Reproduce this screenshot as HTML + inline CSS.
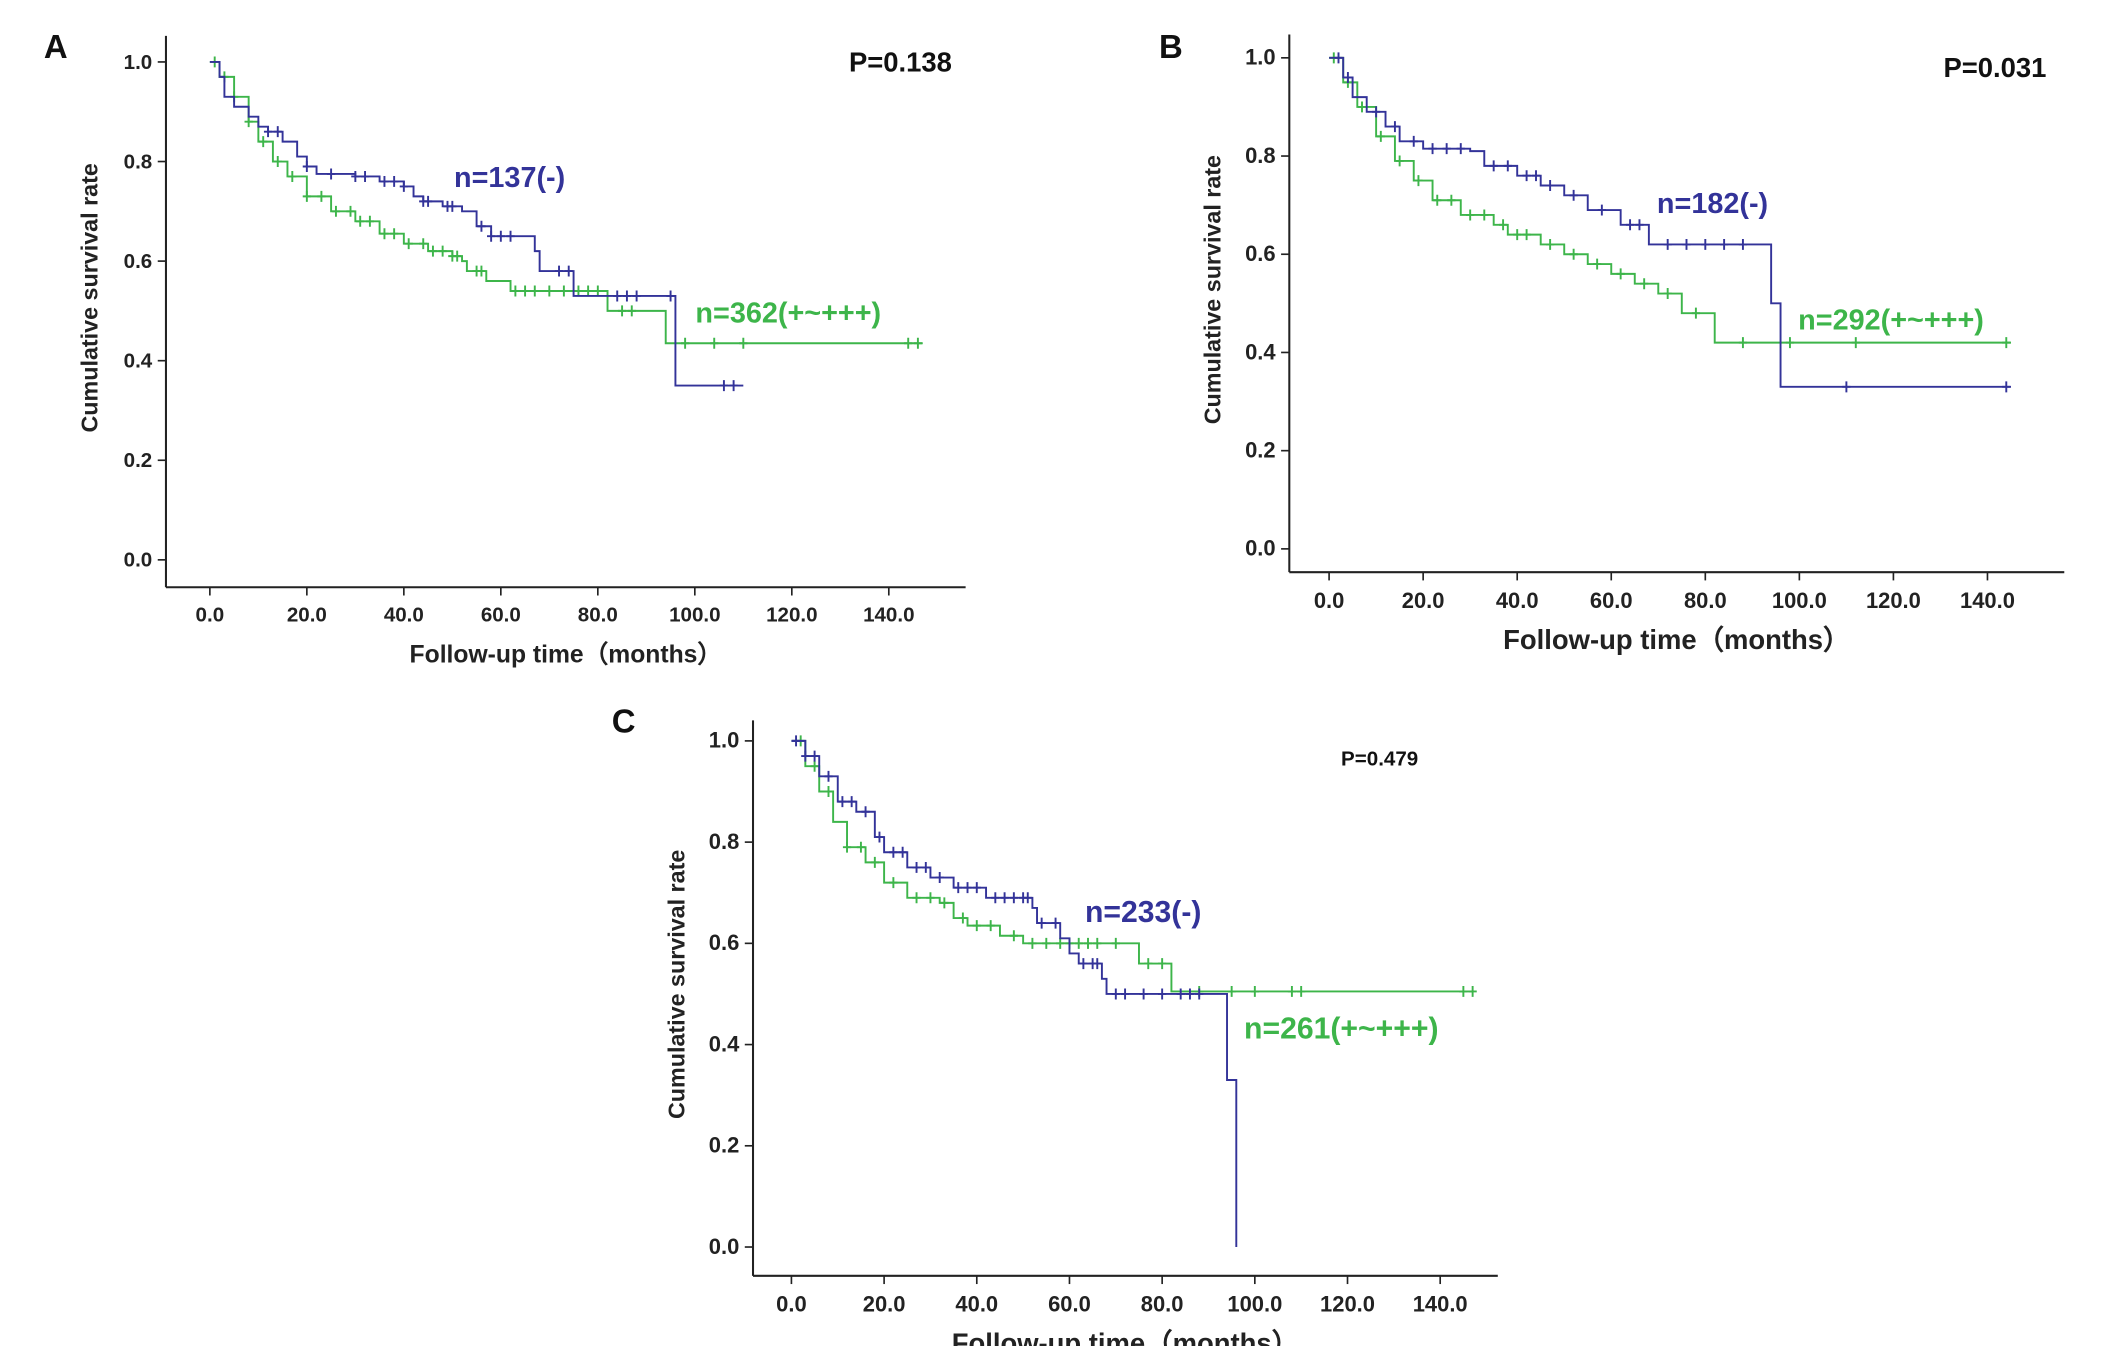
<!DOCTYPE html>
<html><head><meta charset="utf-8"><style>
html,body{margin:0;padding:0;background:#fff;}
svg{display:block;}
text{font-family:"Liberation Sans",sans-serif;}
</style></head><body>
<svg id="fig" width="2126" height="1346" viewBox="0 0 1550 981" xmlns="http://www.w3.org/2000/svg"></svg>
<script>
// Panel A data
const aBlueT=[0,2,3,5,8,10,12,15,18,20,22,30,35,40,42,44,48,52,55,58,67,68,75,96];
const aBlueS=[1,0.97,0.93,0.91,0.89,0.87,0.86,0.84,0.81,0.79,0.775,0.77,0.76,0.75,0.73,0.72,0.71,0.70,0.67,0.65,0.62,0.58,0.53,0.35];
const aBlueEnd=110;
const aBlueCens=[12,14,20,25,30,32,36,38,40,44,45,49,50,56,58,60,62,72,74,84,86,88,95,106,108];
const aGreenT=[0,2,5,8,10,13,16,20,25,30,35,40,45,50,52,53,57,62,82,94];
const aGreenS=[1,0.97,0.93,0.88,0.84,0.80,0.77,0.73,0.70,0.68,0.655,0.635,0.62,0.61,0.60,0.58,0.56,0.54,0.50,0.435];
const aGreenEnd=147;
const aGreenCens=[1,3,5,8,11,14,17,20,23,26,29,31,33,36,38,41,44,46,48,50,51,55,56,63,65,67,70,73,76,78,80,85,87,98,104,110,144,146];
// Panel B data
const bBlueT=[0,3,5,8,12,15,20,30,33,40,45,50,55,62,68,94,96];
const bBlueS=[1,0.96,0.92,0.89,0.86,0.83,0.815,0.81,0.78,0.76,0.74,0.72,0.69,0.66,0.62,0.50,0.33];
const bBlueEnd=145;
const bBlueCens=[2,4,10,14,18,22,25,28,35,38,42,44,47,52,58,64,66,72,76,80,84,88,110,144];
const bGreenT=[0,3,6,10,14,18,22,28,35,38,45,50,55,60,65,70,75,82];
const bGreenS=[1,0.95,0.90,0.84,0.79,0.75,0.71,0.68,0.66,0.64,0.62,0.60,0.58,0.56,0.54,0.52,0.48,0.42];
const bGreenEnd=145;
const bGreenCens=[1,4,7,11,15,19,23,26,30,33,37,40,42,47,52,57,62,67,72,78,88,98,112,144];
// Panel C data
const cBlueT=[0,3,6,10,14,18,20,25,30,35,42,52,53,58,60,62,67,68,94,96];
const cBlueS=[1,0.97,0.93,0.88,0.86,0.81,0.78,0.75,0.73,0.71,0.69,0.67,0.64,0.61,0.58,0.56,0.53,0.50,0.33,0.0];
const cBlueEnd=96;
const cBlueCens=[1,3,5,8,11,13,16,19,22,24,27,29,32,36,38,40,44,46,48,50,51,54,57,63,65,66,70,72,76,80,84,86,88];
const cGreenT=[0,3,6,9,12,16,20,25,32,35,38,45,50,75,82];
const cGreenS=[1,0.95,0.90,0.84,0.79,0.76,0.72,0.69,0.68,0.65,0.635,0.615,0.60,0.56,0.505];
const cGreenEnd=147;
const cGreenCens=[2,5,8,12,15,18,22,27,30,33,37,40,43,48,52,55,58,60,62,64,66,70,77,80,88,95,100,108,110,145,147];
const xTicks=[0,20,40,60,80,100,120,140];
const yTicks=[0,0.2,0.4,0.6,0.8,1.0];

const NS="http://www.w3.org/2000/svg";
const svg=document.getElementById('fig');
function mk(tag,attrs,parent,txt){const e=document.createElementNS(NS,tag);for(const k in attrs)e.setAttribute(k,attrs[k]);if(txt!==undefined)e.textContent=txt;(parent||svg).appendChild(e);return e;}
const BLUE="#333399",GREEN="#3db54a";

function panel(cfg){
  const g=mk('g',{});
  
  
  const xs=t=>cfg.x0+(cfg.x140-cfg.x0)*t/140;
  const ys=s=>cfg.y0+(cfg.y1-cfg.y0)*s;
  // axes
  const ya=mk('line',{x1:cfg.ax,y1:cfg.top,x2:cfg.ax,y2:cfg.bot,stroke:'#222','stroke-width':1.5},g);
  
  const xa=mk('line',{x1:cfg.ax,y1:cfg.bot,x2:cfg.right,y2:cfg.bot,stroke:'#222','stroke-width':1.5},g);
  
  yTicks.forEach(v=>{
    mk('line',{x1:cfg.ax-6,y1:ys(v),x2:cfg.ax,y2:ys(v),stroke:'#222','stroke-width':1.2},g);
    const t=mk('text',{x:cfg.ax-10,y:ys(v)+5,'text-anchor':'end','font-size':cfg.tf,'font-weight':'bold',fill:'#222'},g,v.toFixed(1));
    
  });
  xTicks.forEach(v=>{
    mk('line',{x1:xs(v),y1:cfg.bot,x2:xs(v),y2:cfg.bot+6,stroke:'#222','stroke-width':1.2},g);
    const t=mk('text',{x:xs(v),y:cfg.bot+cfg.tf+10,'text-anchor':'middle','font-size':cfg.tf,'font-weight':'bold',fill:'#222'},g,v.toFixed(1));
    
  });
  const xt=mk('text',{x:(cfg.ax+cfg.right)/2+cfg.xtOff,y:cfg.bot+cfg.tf+40,'text-anchor':'middle','font-size':cfg.af,'font-weight':'bold',fill:'#222'},g,'Follow-up time\uFF08months\uFF09');
  
  const ytx=cfg.ax-50, yty=(cfg.top+cfg.bot)/2-10;
  const yt=mk('text',{x:ytx,y:yty,'text-anchor':'middle','font-size':cfg.yf,'font-weight':'bold',fill:'#222',transform:`rotate(-90 ${ytx} ${yty})`},g,'Cumulative survival rate');
  
  function curve(T,S,end,cens,color,nm){
    let d=`M${xs(T[0])},${ys(S[0])}`;
    for(let i=1;i<T.length;i++){d+=` H${xs(T[i])} V${ys(S[i])}`;}
    d+=` H${xs(end)}`;
    const p=mk('path',{d:d,fill:'none',stroke:color,'stroke-width':1.4},g);
    
    cens.forEach(c=>{
      let s=S[0];for(let i=0;i<T.length;i++){if(T[i]<=c)s=S[i];}
      const m=mk('path',{d:`M${xs(c)},${ys(s)-4} v8 M${xs(c)-3},${ys(s)} h6`,stroke:color,'stroke-width':1.4},g);
      
    });
  }
  curve(cfg.gT,cfg.gS,cfg.gE,cfg.gC,GREEN,'green');
  curve(cfg.bT,cfg.bS,cfg.bE,cfg.bC,BLUE,'blue');
  const l=mk('text',{x:cfg.lx,y:cfg.ly,'font-size':cfg.pfl,'font-weight':'bold',fill:'#111','font-family':'"Liberation Serif",serif'},g,cfg.letter);
  
  const p=mk('text',{x:cfg.px,y:cfg.py,'text-anchor':'end','font-size':cfg.pf,'font-weight':'bold',fill:'#111'},g,cfg.ptxt);
  
  const bl=mk('text',{x:cfg.blx,y:cfg.bly,'font-size':cfg.nf,'font-weight':'bold',fill:BLUE},g,cfg.btxt);
  
  const gl=mk('text',{x:cfg.glx,y:cfg.gly,'font-size':cfg.nf,'font-weight':'bold',fill:GREEN},g,cfg.gtxt);
  
}

panel({name:'panel-a',ax:121,top:26,bot:428,right:704,x0:153,x140:648,y0:408,y1:45,tf:15,af:18,yf:17,xtOff:0,
  bT:aBlueT,bS:aBlueS,bE:aBlueEnd,bC:aBlueCens,gT:aGreenT,gS:aGreenS,gE:aGreenEnd,gC:aGreenCens,
  letter:'A',lx:32,ly:42,pfl:24,ptxt:'P=0.138',px:694,py:52,pf:20,
  btxt:'n=137(-)',blx:331,bly:136,gtxt:'n=362(+~+++)',glx:507,gly:235,nf:21});
panel({name:'panel-b',ax:940,top:25,bot:417,right:1505,x0:969,x140:1449,y0:400,y1:42,tf:16,af:20,yf:17,xtOff:0,
  bT:bBlueT,bS:bBlueS,bE:bBlueEnd,bC:bBlueCens,gT:bGreenT,gS:bGreenS,gE:bGreenEnd,gC:bGreenCens,
  letter:'B',lx:845,ly:42,pfl:24,ptxt:'P=0.031',px:1492,py:56,pf:20,
  btxt:'n=182(-)',blx:1208,bly:155,gtxt:'n=292(+~+++)',glx:1311,gly:240,nf:21});
panel({name:'panel-c',ax:549,top:525,bot:930,right:1092,x0:577,x140:1050,y0:909,y1:540,tf:16,af:20,yf:17,xtOff:0,
  bT:cBlueT,bS:cBlueS,bE:cBlueEnd,bC:cBlueCens,gT:cGreenT,gS:cGreenS,gE:cGreenEnd,gC:cGreenCens,
  letter:'C',lx:446,ly:534,pfl:24,ptxt:'P=0.479',px:1034,py:558,pf:15,
  btxt:'n=233(-)',blx:791,bly:672,gtxt:'n=261(+~+++)',glx:907,gly:757,nf:22});
</script>
</body></html>
